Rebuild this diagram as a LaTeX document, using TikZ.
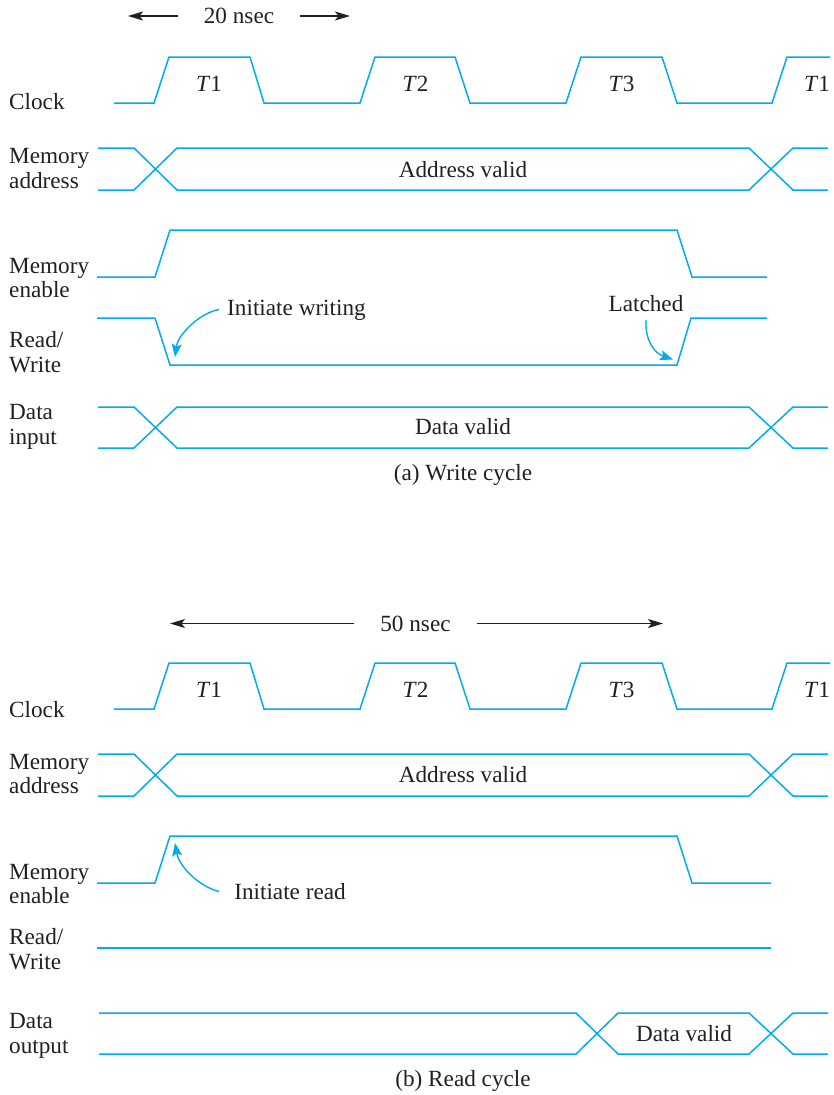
\documentclass[tikz,border=0pt]{standalone}
\usepackage{fontspec}
\setmainfont{Liberation Serif}
\usetikzlibrary{arrows.meta}
\definecolor{sig}{RGB}{0,172,236}
\definecolor{ink}{RGB}{35,31,32}
\newcommand\clkwave[2]{%
  \draw[wave] (114,#1) -- (154,#1) -- (169,#2) -- (250,#2) -- (264,#1) -- (360,#1) -- (375,#2)
    -- (455,#2) -- (470,#1) -- (566,#1) -- (581,#2) -- (662,#2) -- (677,#1) -- (772,#1)
    -- (787,#2) -- (830,#2);}
\newcommand\buswave[2]{%
  \draw[wave] (98,#1) -- (134,#1) -- (177,#2) -- (749,#2) -- (793,#1) -- (828,#1);
  \draw[wave] (98,#2) -- (134,#2) -- (177,#1) -- (749,#1) -- (793,#2) -- (828,#2);}
\begin{document}
\begin{tikzpicture}[x=1pt,y=-1pt,
  wave/.style={draw=sig, line width=1.5pt, line join=miter},
  lbl/.style={font=\fontsize{23.2}{24.5}\selectfont, text=ink, inner sep=0pt},
  sname/.style={lbl, anchor=west, align=left},
  tlbl/.style={lbl},
  timearrow/.style={draw=ink, line width=1.1pt, -{Stealth[length=15pt,width=9pt,inset=3.5pt]}},
  notearrow/.style={draw=sig, line width=1.4pt, -{Stealth[length=13pt,width=10pt,inset=2.5pt]}}]
\useasboundingbox (0,0) rectangle (833,1095);

% ===================== (a) Write cycle =====================
\node[lbl] (ns20) at (239,16) {20 nsec};
\coordinate (a20l) at (178,16); \coordinate (a20lt) at (128,16);
\coordinate (a20r) at (300,16); \coordinate (a20rt) at (350,16);
\draw[timearrow] (a20l) -- (a20lt);
\draw[timearrow] (a20r) -- (a20rt);

\clkwave{103}{57}
\node[tlbl] (at1) at (209,83.5) {\textit{T}1};
\node[tlbl] (at2) at (415.5,83.5) {\textit{T}2};
\node[tlbl] (at3) at (621.5,83.5) {\textit{T}3};
\node[tlbl] (at4) at (817,83.5) {\textit{T}1};

\node[sname] (aclk) at (9,102) {Clock};
\node[sname] (aaddr) at (9,168.5) {Memory\\address};
\node[sname] (aen) at (9,278) {Memory\\enable};
\node[sname] (arw) at (9,352) {Read/\\Write};
\node[sname] (adin) at (9,427) {Data\\input};

\buswave{148}{190}
\node[lbl] (aav) at (463,169.5) {Address valid};

% memory enable
\draw[wave] (97,277) -- (155,277) -- (170,230) -- (677,230) -- (692,277) -- (767,277);
% read/write
\draw[wave] (97,318) -- (155,318) -- (170,365) -- (677,365) -- (691,318) -- (767,318);

\node[lbl] (iw) at (296.5,310) {Initiate writing};
\coordinate (iws) at (219,309.5);
\coordinate (iwe) at (175,357);
\draw[notearrow] (iws) .. controls (200,313) and (178,334) .. (iwe);

\node[lbl] (lat) at (646,303.5) {Latched};
\coordinate (lats) at (646,320);
\coordinate (late) at (673,359.5);
\draw[notearrow] (lats) .. controls (645,340) and (654,353) .. (late);

\buswave{407}{448}
\node[lbl] (adv) at (463,426.5) {Data valid};

\node[lbl] (capa) at (463,475) {(a) Write cycle};

% ===================== (b) Read cycle =====================
\node[lbl] (ns50) at (415.5,623.5) {50 nsec};
\coordinate (a50l) at (354,623.5); \coordinate (a50lt) at (170,623.5);
\coordinate (a50r) at (477,623.5); \coordinate (a50rt) at (663,623.5);
\draw[timearrow] (a50l) -- (a50lt);
\draw[timearrow] (a50r) -- (a50rt);

\clkwave{709}{663}
\node[tlbl] (bt1) at (209,689.5) {\textit{T}1};
\node[tlbl] (bt2) at (415.5,689.5) {\textit{T}2};
\node[tlbl] (bt3) at (621.5,689.5) {\textit{T}3};
\node[tlbl] (bt4) at (817,689.5) {\textit{T}1};

\node[sname] (bclk) at (9,709.5) {Clock};
\node[sname] (baddr) at (9,774) {Memory\\address};
\node[sname] (ben) at (9,884) {Memory\\enable};
\node[sname] (brw) at (9,949) {Read/\\Write};
\node[sname] (bdout) at (9,1036) {Data\\output};

\buswave{754}{796}
\node[lbl] (bav) at (463,775) {Address valid};

% memory enable
\draw[wave] (97,883) -- (155,883) -- (170,836) -- (677,836) -- (692,883) -- (771,883);

\node[lbl] (ir) at (290,891.5) {Initiate read};
\coordinate (irs) at (219,891.5);
\coordinate (ire) at (175,843);
\draw[notearrow] (irs) .. controls (198,886) and (179,866) .. (ire);

% read/write
\draw[wave] (97,948) -- (771,948);

% data output
\draw[wave] (99,1013) -- (576,1013) -- (618,1054) -- (749,1054) -- (793,1013) -- (828,1013);
\draw[wave] (99,1054) -- (576,1054) -- (618,1013) -- (749,1013) -- (793,1054) -- (828,1054);
\node[lbl] (bdv) at (684,1033.5) {Data valid};

\node[lbl] (capb) at (463,1081) {(b) Read cycle};
\end{tikzpicture}
\end{document}
